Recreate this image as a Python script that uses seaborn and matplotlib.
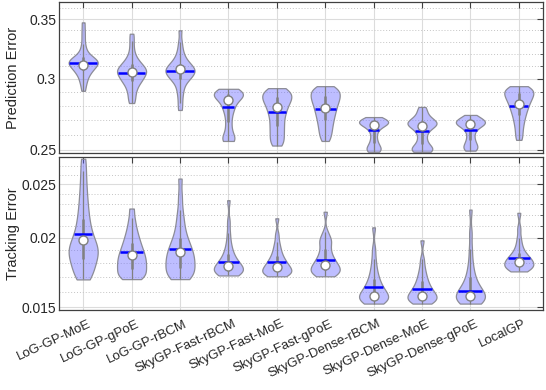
import numpy as np
import pandas as pd
import matplotlib
matplotlib.use("Agg")
import matplotlib.pyplot as plt
import matplotlib.ticker as mticker
from matplotlib.transforms import ScaledTranslation
import seaborn as sns

methods = ["LoG-GP-MoE", "LoG-GP-gPoE", "LoG-GP-rBCM", "SkyGP-Fast-rBCM",
           "SkyGP-Fast-MoE", "SkyGP-Fast-gPoE", "SkyGP-Dense-rBCM",
           "SkyGP-Dense-MoE", "SkyGP-Dense-gPoE", "LocalGP"]

# prediction error samples, one row per method
pred_samples = [
    [0.291, 0.295, 0.298, 0.300, 0.302, 0.304, 0.305, 0.306, 0.307, 0.308, 0.309, 0.310, 0.310, 0.311,
     0.312, 0.312, 0.313, 0.313, 0.314, 0.314, 0.315, 0.315, 0.316, 0.317, 0.318, 0.319, 0.321, 0.324,
     0.328, 0.334, 0.340, 0.347],
    [0.282, 0.285, 0.288, 0.291, 0.293, 0.295, 0.297, 0.298, 0.299, 0.300, 0.301, 0.302, 0.303, 0.304,
     0.305, 0.305, 0.306, 0.307, 0.307, 0.308, 0.309, 0.310, 0.311, 0.312, 0.313, 0.315, 0.317, 0.320,
     0.325, 0.331, 0.337],
    [0.277, 0.282, 0.287, 0.291, 0.294, 0.297, 0.299, 0.300, 0.301, 0.302, 0.303, 0.304, 0.305, 0.306,
     0.306, 0.307, 0.307, 0.308, 0.309, 0.310, 0.311, 0.312, 0.313, 0.315, 0.317, 0.320, 0.324, 0.330,
     0.340],
    [0.2558, 0.2562, 0.2568, 0.2580, 0.2600, 0.2630, 0.2665, 0.2700, 0.2735, 0.2762, 0.2782, 0.2798,
     0.2815, 0.2832, 0.2848, 0.2858, 0.2866, 0.2872, 0.2878, 0.2883, 0.2888, 0.2893, 0.2898,
     0.2903, 0.2910, 0.2917, 0.2925],
    [0.2528, 0.2545, 0.2565, 0.2585, 0.2605, 0.2625, 0.2645, 0.2665, 0.2685, 0.2705, 0.2725, 0.2745,
     0.2760, 0.2775, 0.2790, 0.2805, 0.2818, 0.2830, 0.2840, 0.2850, 0.2860, 0.2870, 0.2880, 0.2890,
     0.2900, 0.2910, 0.2920, 0.2930],
    [0.2558, 0.2585, 0.2607, 0.2628, 0.2648, 0.2667, 0.2685, 0.2702, 0.2718, 0.2733, 0.2748, 0.2762,
     0.2775, 0.2788, 0.2800, 0.2812, 0.2825, 0.2835, 0.2845, 0.2855, 0.2865, 0.2875, 0.2885, 0.2895,
     0.2905, 0.2915, 0.2925, 0.2935, 0.2945],
    [0.2488, 0.2493, 0.2500, 0.2508, 0.2518, 0.2530, 0.2545, 0.2565, 0.2590, 0.2615, 0.2635,
     0.2650, 0.2660, 0.2667, 0.2672, 0.2676, 0.2680, 0.2684, 0.2688, 0.2692, 0.2696, 0.2700, 0.2705,
     0.2712, 0.2720],
    [0.2488, 0.2492, 0.2497, 0.2503, 0.2510, 0.2520, 0.2535, 0.2555, 0.2580, 0.2605, 0.2628,
     0.2643, 0.2655, 0.2663, 0.2669, 0.2674, 0.2679, 0.2684, 0.2690, 0.2698, 0.2708, 0.2725, 0.2745,
     0.2770, 0.2792],
    [0.2495, 0.2505, 0.2515, 0.2527, 0.2540, 0.2558, 0.2580, 0.2605, 0.2628, 0.2645, 0.2657,
     0.2665, 0.2671, 0.2676, 0.2681, 0.2686, 0.2691, 0.2697, 0.2704, 0.2712, 0.2722, 0.2735],
    [0.2565, 0.2597, 0.2628, 0.2657, 0.2682, 0.2704, 0.2724, 0.2742, 0.2758, 0.2773, 0.2787, 0.2800,
     0.2812, 0.2824, 0.2835, 0.2845, 0.2855, 0.2864, 0.2873, 0.2882, 0.2890, 0.2898, 0.2906, 0.2914,
     0.2922, 0.2930, 0.2938, 0.2945],
]
pred_median = [0.3126, 0.3049, 0.3062, 0.2791, 0.2756, 0.2775, 0.2632, 0.2625, 0.2632, 0.2799]
pred_mean = [0.3110, 0.3054, 0.3076, 0.2843, 0.2794, 0.2787, 0.2666, 0.2659, 0.2670, 0.2811]

# tracking error samples
track_samples = [
    [0.01683, 0.01700, 0.01720, 0.01745, 0.01770, 0.01790, 0.01810, 0.01830, 0.01850, 0.01865, 0.01880,
     0.01895, 0.01910, 0.01925, 0.01940, 0.01960, 0.01985, 0.02010, 0.02040, 0.02075, 0.02115, 0.02160,
     0.02210, 0.02270, 0.02340, 0.02420, 0.02520, 0.02640, 0.02780],
    [0.01685, 0.01692, 0.01700, 0.01712, 0.01725, 0.01738, 0.01750, 0.01762, 0.01775, 0.01788, 0.01800,
     0.01812, 0.01825, 0.01838, 0.01852, 0.01866, 0.01880, 0.01896, 0.01913, 0.01932, 0.01952, 0.01975,
     0.02000, 0.02030, 0.02065, 0.02110, 0.02170, 0.02260],
    [0.01685, 0.01692, 0.01702, 0.01715, 0.01728, 0.01742, 0.01756, 0.01770, 0.01784, 0.01798, 0.01812,
     0.01826, 0.01840, 0.01855, 0.01870, 0.01886, 0.01902, 0.01920, 0.01940, 0.01962, 0.01988, 0.02020,
     0.02060, 0.02110, 0.02170, 0.02250, 0.02380, 0.02560],
    [0.01711, 0.01716, 0.01722, 0.01728, 0.01734, 0.01740, 0.01746, 0.01752, 0.01758, 0.01764, 0.01771,
     0.01778, 0.01786, 0.01795, 0.01806, 0.01818, 0.01832, 0.01848, 0.01868, 0.01892, 0.01925, 0.01970,
     0.02040, 0.02140, 0.02340],
    [0.01705, 0.01711, 0.01717, 0.01723, 0.01729, 0.01735, 0.01741, 0.01748, 0.01755, 0.01762, 0.01770,
     0.01778, 0.01787, 0.01797, 0.01808, 0.01820, 0.01834, 0.01850, 0.01870, 0.01895, 0.01925, 0.01965,
     0.02030, 0.02170],
    [0.01705, 0.01712, 0.01720, 0.01728, 0.01736, 0.01744, 0.01752, 0.01760, 0.01769, 0.01778, 0.01788,
     0.01798, 0.01810, 0.01824, 0.01840, 0.01858, 0.01880, 0.01905, 0.01935, 0.01965, 0.01985, 0.02000,
     0.02050, 0.02230],
    [0.01522, 0.01528, 0.01534, 0.01541, 0.01548, 0.01553, 0.01559, 0.01565, 0.01572, 0.01580, 0.01588,
     0.01597, 0.01607, 0.01618, 0.01630, 0.01645, 0.01662, 0.01682, 0.01705, 0.01735, 0.01775, 0.01830,
     0.01910, 0.02090],
    [0.01522, 0.01528, 0.01534, 0.01542, 0.01549, 0.01555, 0.01561, 0.01568, 0.01575, 0.01583, 0.01592,
     0.01602, 0.01613, 0.01625, 0.01640, 0.01657, 0.01677, 0.01700, 0.01730, 0.01770, 0.01830, 0.01980],
    [0.01522, 0.01527, 0.01533, 0.01540, 0.01546, 0.01551, 0.01557, 0.01563, 0.01570, 0.01578, 0.01586,
     0.01595, 0.01605, 0.01617, 0.01630, 0.01646, 0.01665, 0.01690, 0.01720, 0.01760, 0.01820, 0.01910,
     0.02040, 0.02250],
    [0.01740, 0.01748, 0.01756, 0.01763, 0.01770, 0.01777, 0.01784, 0.01791, 0.01798, 0.01805, 0.01812,
     0.01820, 0.01828, 0.01837, 0.01847, 0.01858, 0.01872, 0.01890, 0.01915, 0.01950, 0.02000, 0.02080,
     0.02220],
]
track_median = [0.02036, 0.01883, 0.01910, 0.01807, 0.01812, 0.01827, 0.01630, 0.01619, 0.01607, 0.01840]
track_mean = [0.01980, 0.01863, 0.01889, 0.01777, 0.01772, 0.01789, 0.01574, 0.01572, 0.01568, 0.01807]

fill_rgba = (0.40, 0.40, 1.0, 0.42)
edge_c = "#8c8c96"
grey_c = "#808080"

sns.set_style("white")
plt.rcParams["font.family"] = ["Liberation Sans", "DejaVu Sans"]


def span_at(verts, y):
    xs = []
    for (x0, y0), (x1, y1) in zip(verts[:-1], verts[1:]):
        if y0 != y1 and (y0 - y) * (y1 - y) <= 0:
            xs.append(x0 + (y - y0) * (x1 - x0) / (y1 - y0))
    return min(xs), max(xs)


def draw_panel(ax, samples, medians, means, ylim, major, major_lbl, minor, ylabel):
    df = pd.DataFrame({
        "method": np.repeat(methods, [len(s) for s in samples]),
        "value": np.concatenate(samples),
    })
    sns.violinplot(data=df, x="method", y="value", order=methods, ax=ax,
                   color="#6666ff", saturation=1, linecolor=edge_c, linewidth=0.9,
                   density_norm="width", width=0.6, cut=0, inner=None,
                   bw_adjust=0.55, log_scale=True)
    polys = list(ax.collections)
    for p in polys:
        p.set_facecolor(fill_rgba)
        p.set_edgecolor(edge_c)
    for i, s in enumerate(samples):
        s = np.asarray(s)
        q1, q3 = np.percentile(s, [25, 75])
        iqr = q3 - q1
        lo = s[s >= q1 - 1.5 * iqr].min()
        hi = s[s <= q3 + 1.5 * iqr].max()
        ax.vlines(i, lo, hi, color=grey_c, lw=0.9, zorder=3)
        ax.vlines(i, q1, q3, color=grey_c, lw=1.8, zorder=3)
        verts = polys[i].get_paths()[0].vertices
        x0, x1 = span_at(verts, medians[i])
        ax.hlines(medians[i], x0 + 0.01, x1 - 0.01, color="#0000ff", lw=1.8, zorder=4)
    ax.scatter(np.arange(len(methods)), means, s=42, facecolor="white",
               edgecolor=grey_c, linewidth=1, zorder=5)

    ax.set_ylim(*ylim)
    ax.set_xlim(-0.5, len(methods) - 0.5)
    ax.yaxis.set_major_locator(mticker.FixedLocator(major))
    ax.yaxis.set_major_formatter(mticker.FixedFormatter(major_lbl))
    ax.yaxis.set_minor_locator(mticker.FixedLocator(minor))
    ax.yaxis.set_minor_formatter(mticker.NullFormatter())
    ax.set_axisbelow(True)
    ax.yaxis.grid(True, which="major", color="#dcdcdc", lw=0.8)
    ax.yaxis.grid(True, which="minor", color="#c4c4c4", lw=0.7, ls=(0, (1, 2)))
    ax.xaxis.grid(True, color="#dcdcdc", lw=0.8)
    ax.set_ylabel(ylabel, fontsize=10.5)
    ax.set_xlabel("")
    ax.tick_params(direction="in", which="both", top=True, right=True,
                   labelsize=10, color="#404040", pad=2)
    ax.tick_params(which="major", length=4)
    ax.tick_params(which="minor", length=2.5)
    for sp in ax.spines.values():
        sp.set_color("#404040")
        sp.set_linewidth(0.9)


fig = plt.figure(figsize=(5.46, 3.90), dpi=100)
ax1 = fig.add_axes([0.108, 0.6077, 0.8865, 0.3873])
ax2 = fig.add_axes([0.108, 0.2064, 0.8865, 0.391], sharex=ax1)

draw_panel(ax1, pred_samples, pred_median, pred_mean, (0.248, 0.3657),
           [0.25, 0.3, 0.35], ["0.25", "0.3", "0.35"],
           [0.26, 0.27, 0.28, 0.29, 0.31, 0.32, 0.33, 0.34, 0.36], "Prediction Error")
draw_panel(ax2, track_samples, track_median, track_mean, (0.01485, 0.0280),
           [0.015, 0.02, 0.025], ["0.015", "0.02", "0.025"],
           [0.016, 0.017, 0.018, 0.019, 0.021, 0.022, 0.023, 0.024, 0.026, 0.027], "Tracking Error")

ax1.tick_params(axis="x", labelbottom=False)
ax2.set_xticks(range(len(methods)), methods, rotation=25, ha="right",
               rotation_mode="anchor", fontsize=9.5)
ax2.tick_params(axis="x", pad=6)
fig.canvas.draw()
shift = ScaledTranslation(3 / 72, 0, fig.dpi_scale_trans)
for lbl in ax2.get_xticklabels():
    lbl.set_transform(lbl.get_transform() + shift)
ax1.yaxis.set_label_coords(-0.08, 0.5)
ax2.yaxis.set_label_coords(-0.08, 0.5)

fig.savefig("out.png", dpi=100)
